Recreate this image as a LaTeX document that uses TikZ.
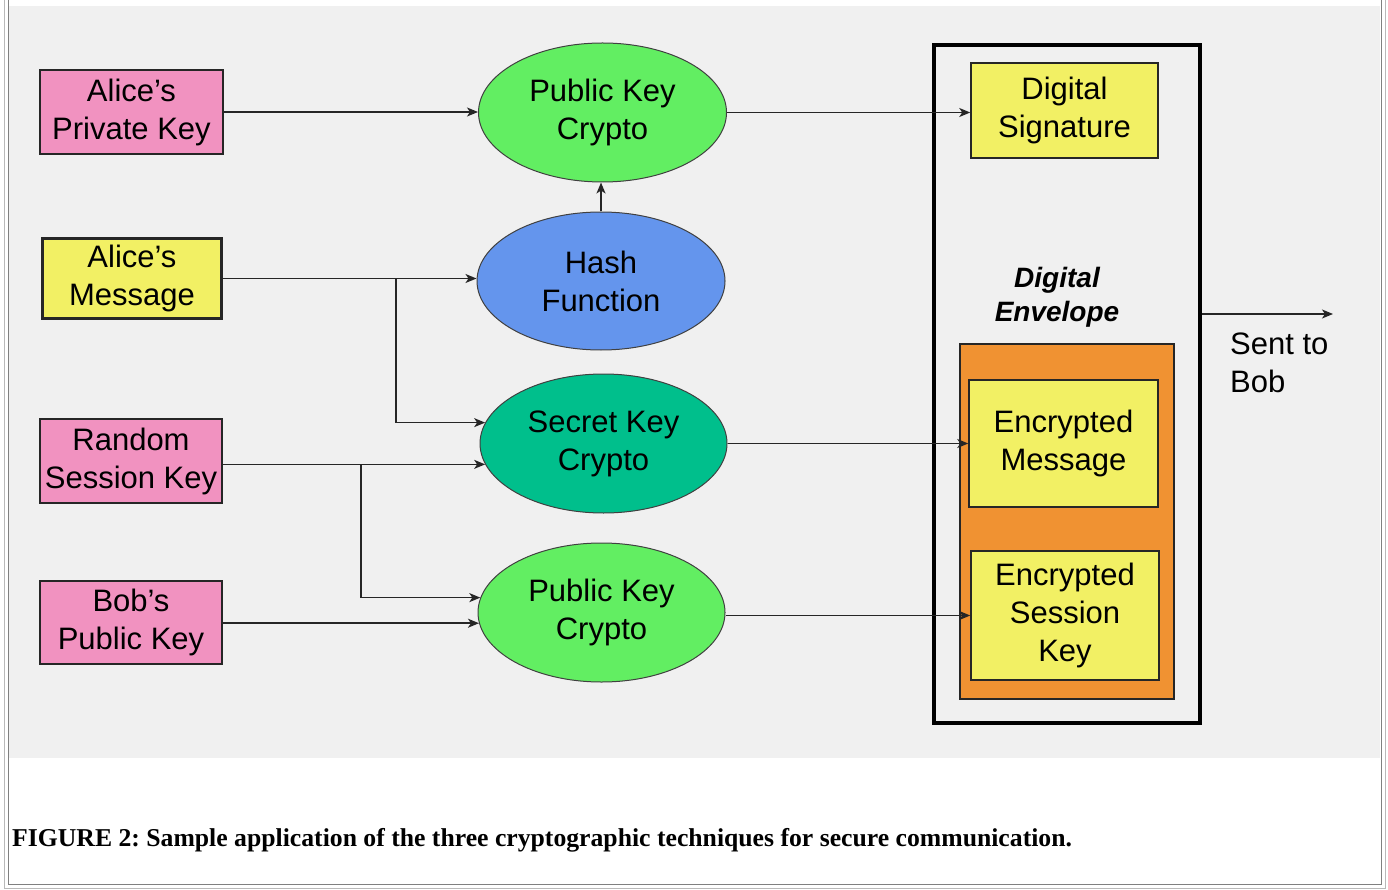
\documentclass[tikz,border=0pt]{standalone}
\usepackage{fontspec}
\setmainfont{Liberation Serif}
\newfontfamily\arial{Liberation Sans}
\usetikzlibrary{shapes.geometric,arrows.meta,calc}
\definecolor{bgc}{HTML}{F0F0F0}
\definecolor{pinkc}{HTML}{F192C0}
\definecolor{yelc}{HTML}{F2F064}
\definecolor{greenc}{HTML}{62EE62}
\definecolor{bluec}{HTML}{6495ED}
\definecolor{tealc}{HTML}{00BF8C}
\definecolor{orangec}{HTML}{F09232}
\tikzset{
  txt/.style={font=\arial\fontsize{31}{38}\selectfont, align=center, text=black},
  keybox/.style={txt, draw=black!85, line width=1.5pt, fill=pinkc, inner sep=0pt},
  yelbox/.style={txt, draw=black!85, line width=1.5pt, fill=yelc, inner sep=0pt},
  oval/.style={txt, ellipse, draw=black!75, line width=1pt, inner sep=0pt,
     minimum width=247pt, minimum height=139pt},
  conn/.style={line width=1.6pt, draw=black!85, -{Stealth[length=11pt,width=9pt,inset=3pt]}},
}
\begin{document}
\frenchspacing
\begin{tikzpicture}[x=1pt,y=-1pt]
\useasboundingbox (0,0) rectangle (1388,890);
\fill[white] (0,0) rectangle (1388,890);
\fill[bgc] (9,6) rectangle (1380,758);
% page frame
\draw[gray!55, line width=1pt] (4,-2) -- (4,888) -- (1385,888) -- (1385,-2);
\draw[gray, line width=1pt] (8,-2) -- (8,884) -- (1381,884) -- (1381,-2);

% left inputs
\node[keybox, minimum width=183pt, minimum height=84pt] (apk) at (131.5,112) {Alice’s\\Private Key};
\node[yelbox, line width=3.5pt, minimum width=179pt, minimum height=80pt] (am) at (132,278.5) {Alice’s\\Message};
\node[keybox, minimum width=182pt, minimum height=84pt] (rsk) at (131,461) {Random\\Session Key};
\node[keybox, minimum width=182pt, minimum height=83pt] (bpk) at (131,622.5) {Bob’s\\Public Key};

% ellipses
\node[oval, fill=greenc, minimum width=248pt] (pk1) at (602.5,112.5) {Public Key\\Crypto};
\node[oval, fill=bluec, minimum width=248pt, minimum height=138pt] (hash) at (601,281) {Hash\\Function};
\node[oval, fill=tealc] (sk) at (603.5,443.5) {Secret Key\\Crypto};
\node[oval, fill=greenc] (pk2) at (601.5,612.5) {Public Key\\Crypto};

% digital envelope
\node[draw=black, line width=4pt, minimum width=266pt, minimum height=678pt, inner sep=0pt] (big) at (1067,384) {};
\node[yelbox, minimum width=187pt, minimum height=95pt] (ds) at (1064.5,110.5) {Digital\\Signature};
\node[font=\arial\bfseries\itshape\fontsize{28}{34}\selectfont, align=center, inner sep=0pt] (envlabel) at (1057,297) {Digital\\Envelope};
\node[draw=black!85, line width=1.5pt, fill=orangec, minimum width=214pt, minimum height=355pt, inner sep=0pt] (orange) at (1067,521.5) {};
\node[yelbox, minimum width=189pt, minimum height=127pt] (em) at (1063.5,443.5) {Encrypted\\Message};
\node[yelbox, minimum width=188pt, minimum height=129pt] (esk) at (1065,615.5) {Encrypted\\Session\\Key};
\node[txt, align=left, anchor=north west, inner sep=0pt] (sentlabel) at (1230,333) {Sent to\\Bob};
\coordinate (sent) at (1333,314);

% connectors
\coordinate (j1) at (396,0 |- am.east);
\coordinate (j2) at (361,0 |- sk.190);
\draw[conn] (apk.east) -- (apk.east -| pk1.west);
\draw[conn] (am.east) -- (am.east -| hash.west);
\draw[conn] (j1) |- (sk.170);
\draw[conn] (rsk.east |- sk.190) -- (sk.190);
\draw[conn] (j2) |- (pk2.173);
\draw[conn] (bpk.east |- pk2.185) -- (pk2.185);
\draw[conn] (hash.north) -- (hash.north |- pk1.south);
\draw[conn] (pk1.east) -- (pk1.east -| ds.west);
\draw[conn] (sk.east) -- (sk.east -| em.west);
\draw[conn] (esk.west -| pk2.east) -- (esk.west);
\draw[conn] (big.east |- sent) -- (sent);

% caption
\node[anchor=base west, inner sep=0pt, font=\bfseries\fontsize{25.7}{30}\selectfont] (cap) at (12,846) {FIGURE 2: Sample application of the three cryptographic techniques for secure communication.};
\end{tikzpicture}
\end{document}
